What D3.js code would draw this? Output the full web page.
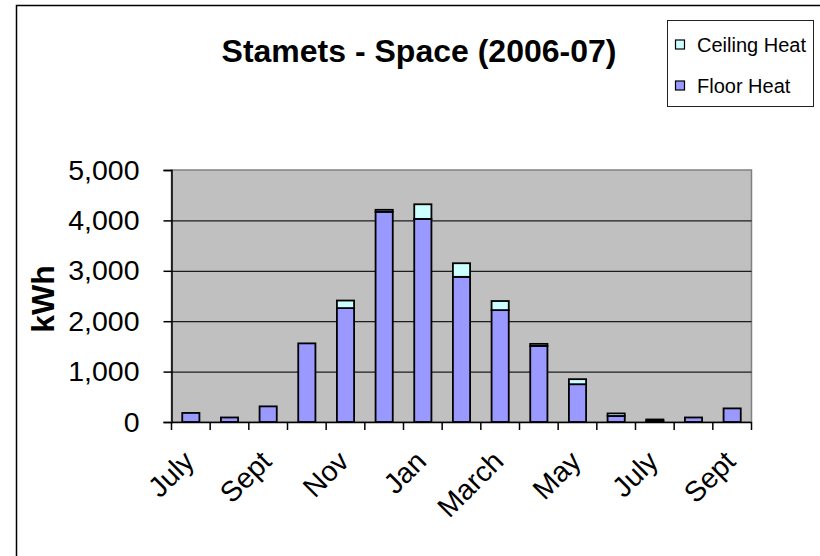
<!DOCTYPE html>
<html>
<head>
<meta charset="utf-8">
<script src="https://cdn.jsdelivr.net/npm/d3@7/dist/d3.min.js"></script>
<style>
  html, body { margin: 0; padding: 0; background: #fff; }
  svg { display: block; font-family: "Liberation Sans", Arial, sans-serif; }
</style>
</head>
<body>
<svg id="chart" width="820" height="556"></svg>
<script>
const months = ["July","Aug","Sept","Oct","Nov","Dec","Jan","Feb","March","April","May","June","July","Aug","Sept"];
const floorHeat   = [180, 90, 310, 1560, 2260, 4170, 4030, 2880, 2220, 1510, 750, 120, 20, 90, 270];
const ceilingHeat = [0, 0, 0, 0, 150, 40, 290, 270, 180, 40, 100, 50, 30, 0, 0];
const yTicks = [0, 1000, 2000, 3000, 4000, 5000];
const seriesNames = ["Ceiling Heat", "Floor Heat"];
const seriesColors = {"Floor Heat": "#9999FF", "Ceiling Heat": "#CCFFFF"};

const svg = d3.select("#chart");
const plot = {left: 171.5, right: 751.5, top: 170, bottom: 422};

// outer chart border
svg.append("rect").attr("x", 16.5).attr("y", 5.5).attr("width", 830).attr("height", 600)
  .attr("fill", "#fff").attr("stroke", "#000").attr("stroke-width", 1.5);

const idx = months.map((d, i) => i);
const x = d3.scaleBand().domain(idx).range([plot.left, plot.right]).paddingInner(0).paddingOuter(0);
const y = d3.scaleLinear().domain([0, 5000]).range([plot.bottom, plot.top]);
const step = x.step();
const bw = step / 2.25;

// plot background
svg.append("rect").attr("x", plot.left).attr("y", plot.top)
  .attr("width", plot.right - plot.left).attr("height", plot.bottom - plot.top)
  .attr("fill", "#C0C0C0").attr("stroke", "#808080").attr("stroke-width", 1.5);

// gridlines
svg.append("g").attr("transform", `translate(${plot.left},0)`)
  .call(d3.axisLeft(y).tickValues([1000, 2000, 3000, 4000]).tickSize(-(plot.right - plot.left)).tickFormat(""))
  .call(g => g.select(".domain").remove())
  .call(g => g.selectAll("line").attr("stroke", "#000").attr("stroke-width", 1.2).attr("opacity", 0.85));

// stacked data
const stackData = idx.map(i => ({i, "Floor Heat": floorHeat[i], "Ceiling Heat": ceilingHeat[i]}));
const stack = d3.stack().keys(["Floor Heat", "Ceiling Heat"])(stackData);

svg.append("g").selectAll("g").data(stack).join("g")
  .attr("fill", d => seriesColors[d.key])
  .selectAll("rect").data(d => d.filter(p => p[1] - p[0] > 0)).join("rect")
  .attr("x", d => x(d.data.i) + (step - bw) / 2)
  .attr("width", bw)
  .attr("y", d => y(d[1]))
  .attr("height", d => y(d[0]) - y(d[1]))
  .attr("stroke", "#000").attr("stroke-width", 1.8);

// y axis
const yAxis = svg.append("g").attr("transform", `translate(${plot.left},0)`)
  .call(d3.axisLeft(y).tickValues(yTicks).tickFormat(d3.format(",")).tickSize(8).tickPadding(24));
yAxis.select(".domain").attr("stroke", "#000").attr("stroke-width", 1.5);
yAxis.selectAll("line").attr("stroke", "#000").attr("stroke-width", 1.5);
yAxis.selectAll("text").attr("font-size", 28.5).attr("fill", "#000")
  .attr("font-family", "'Liberation Sans', Arial, sans-serif");

// x axis line
const xAxis = svg.append("g").attr("transform", `translate(0,${plot.bottom})`)
  .call(d3.axisBottom(x).tickSize(0).tickFormat(""));
xAxis.select(".domain").attr("stroke", "#000").attr("stroke-width", 1.5);
// category boundary ticks
const bounds = idx.map(i => x(i)).concat([x(idx[idx.length - 1]) + step]);
xAxis.selectAll("line.bt").data(bounds).join("line").attr("class", "bt")
  .attr("x1", d => d).attr("x2", d => d).attr("y1", 0).attr("y2", 8)
  .attr("stroke", "#000").attr("stroke-width", 1.5);

// x labels (every other)
svg.append("g").selectAll("text").data(idx.filter(i => i % 2 === 0)).join("text")
  .attr("transform", i => `translate(${x(i) + step / 2 - 2},${plot.bottom + 34}) rotate(-45)`)
  .attr("text-anchor", "end").attr("dy", "0.35em")
  .attr("font-size", 28.5).attr("fill", "#000")
  .text(i => months[i]);

// y axis title
svg.append("text").attr("transform", `translate(43,299) rotate(-90)`)
  .attr("text-anchor", "middle").attr("dy", "0.35em")
  .attr("font-size", 32).attr("font-weight", "bold").text("kWh");

// title
svg.append("text").attr("x", 419).attr("y", 62).attr("text-anchor", "middle")
  .attr("font-size", 32).attr("font-weight", "bold").text("Stamets - Space (2006-07)");

// legend
const lg = svg.append("g");
lg.append("rect").attr("x", 667.5).attr("y", 20.5).attr("width", 146).attr("height", 86)
  .attr("fill", "#fff").attr("stroke", "#222").attr("stroke-width", 1);
const ly = d3.scalePoint().domain(seriesNames).range([44.5, 85.5]);
seriesNames.forEach(n => {
  lg.append("rect").attr("x", 675.5).attr("y", ly(n) - 4.5).attr("width", 9).attr("height", 9)
    .attr("fill", seriesColors[n]).attr("stroke", "#000").attr("stroke-width", 1.2);
  lg.append("text").attr("x", 697).attr("y", ly(n)).attr("dy", "0.35em")
    .attr("font-size", 20).text(n);
});
</script>
</body>
</html>
